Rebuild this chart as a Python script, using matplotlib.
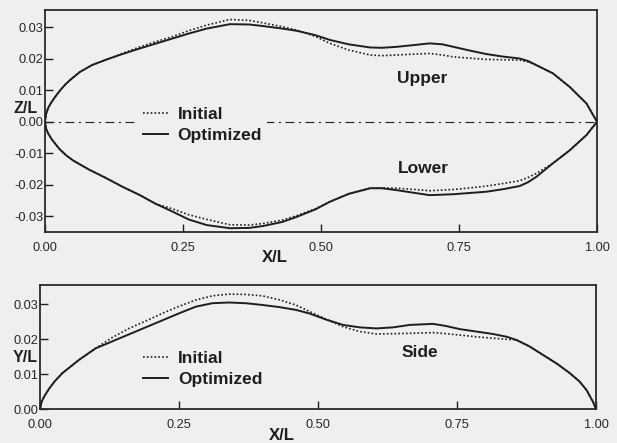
import numpy as np
import matplotlib.pyplot as plt

plt.rcParams['font.family'] = 'Liberation Sans'

# upper / lower surface, Z/L vs X/L
xu = [0, 0.002, 0.006, 0.012, 0.02, 0.027, 0.036, 0.045, 0.063, 0.085, 0.112, 0.14, 0.172, 0.2,
      0.232, 0.26, 0.293, 0.335, 0.37, 0.395, 0.43, 0.456, 0.49, 0.516, 0.55, 0.589, 0.61, 0.637,
      0.67, 0.697, 0.72, 0.74, 0.77, 0.80, 0.83, 0.86, 0.875, 0.89, 0.92, 0.951, 0.981, 1.0]
zu_opt = [0, 0.0025, 0.0045, 0.0063, 0.0083, 0.0099, 0.0117, 0.0132, 0.0158, 0.018, 0.0198,
          0.0215, 0.0233, 0.0248, 0.0265, 0.028, 0.0296, 0.031, 0.0309, 0.0304, 0.0296, 0.0289,
          0.0275, 0.026, 0.0246, 0.0236, 0.0235, 0.0238, 0.0244, 0.0249, 0.0246, 0.0238, 0.0226,
          0.0215, 0.0207, 0.0201, 0.0193, 0.018, 0.0154, 0.011, 0.0058, 0]
zu_init = [0, 0.0025, 0.0045, 0.0063, 0.0083, 0.0099, 0.0117, 0.0132, 0.0158, 0.018, 0.0198,
           0.0217, 0.0238, 0.0254, 0.0271, 0.0289, 0.0307, 0.0325, 0.0322, 0.0314, 0.0302, 0.0291,
           0.0271, 0.0249, 0.0228, 0.0212, 0.0210, 0.0212, 0.0215, 0.0217, 0.0212, 0.0206, 0.0202,
           0.0198, 0.0197, 0.0196, 0.0190, 0.018, 0.0154, 0.011, 0.0058, 0]

xl = [0, 0.002, 0.006, 0.012, 0.02, 0.027, 0.038, 0.051, 0.08, 0.112, 0.14, 0.172, 0.2, 0.232,
      0.26, 0.293, 0.335, 0.37, 0.395, 0.43, 0.456, 0.49, 0.516, 0.55, 0.589, 0.61, 0.637, 0.67,
      0.697, 0.74, 0.77, 0.80, 0.83, 0.86, 0.875, 0.89, 0.92, 0.951, 0.981, 1.0]
zl_opt = [0, -0.0022, -0.0038, -0.0055, -0.0073, -0.0088, -0.0106, -0.0123, -0.0152, -0.018,
          -0.0206, -0.0233, -0.026, -0.0286, -0.031, -0.0328, -0.0338, -0.0337, -0.0331, -0.0318,
          -0.0302, -0.0278, -0.0254, -0.0229, -0.0211, -0.0211, -0.0217, -0.0226, -0.0233, -0.023,
          -0.0226, -0.0222, -0.0214, -0.0204, -0.0192, -0.0175, -0.0132, -0.009, -0.0042, 0]
zl_init = [0, -0.0022, -0.0038, -0.0055, -0.0073, -0.0088, -0.0106, -0.0123, -0.0152, -0.018,
           -0.0206, -0.0233, -0.026, -0.0277, -0.0295, -0.0310, -0.0327, -0.0328, -0.0323, -0.0312,
           -0.0298, -0.0276, -0.0254, -0.0229, -0.0211, -0.021, -0.0211, -0.0215, -0.0219, -0.0215,
           -0.021, -0.0204, -0.0196, -0.0187, -0.0177, -0.0164, -0.0132, -0.009, -0.0042, 0]

# side, Y/L vs X/L
xs = [0, 0.003, 0.008, 0.016, 0.027, 0.04, 0.07, 0.10, 0.13, 0.16, 0.19, 0.22, 0.25, 0.28, 0.31,
      0.34, 0.37, 0.40, 0.43, 0.46, 0.484, 0.515, 0.545, 0.575, 0.605, 0.635, 0.665, 0.707, 0.73,
      0.755, 0.785, 0.815, 0.84, 0.857, 0.88, 0.905, 0.93, 0.953, 0.97, 0.983, 0.995, 1.0]
ys_opt = [0, 0.0022, 0.0038, 0.0058, 0.0081, 0.0103, 0.0141, 0.0174, 0.0194, 0.0214, 0.0234,
          0.0254, 0.0274, 0.0293, 0.0303, 0.0305, 0.0303, 0.0298, 0.0292, 0.0284, 0.0274, 0.0256,
          0.0241, 0.0234, 0.0231, 0.0234, 0.0241, 0.0244, 0.0238, 0.0229, 0.0222, 0.0215, 0.0207,
          0.0198, 0.018, 0.0155, 0.013, 0.0103, 0.008, 0.0055, 0.002, 0]
ys_init = [0, 0.0022, 0.0038, 0.0058, 0.0081, 0.0103, 0.0141, 0.0174, 0.0205, 0.0231, 0.0252,
           0.0274, 0.0294, 0.0312, 0.0324, 0.0329, 0.0328, 0.0324, 0.0313, 0.0298, 0.0280, 0.0257,
           0.0236, 0.0222, 0.0215, 0.0216, 0.0217, 0.0219, 0.0216, 0.0212, 0.0207, 0.0203, 0.0200,
           0.0198, 0.018, 0.0155, 0.013, 0.0103, 0.008, 0.0055, 0.002, 0]

xticks = [0.0, 0.25, 0.5, 0.75, 1.0]
xticklabels = ['0.00', '0.25', '0.50', '0.75', '1.00']

bg = '#efefef'
ink = '#1e1e1e'
dotted = (0, (1, 1.3))

fig = plt.figure(figsize=(6.17, 4.43), dpi=100, facecolor=bg)
ax1 = fig.add_axes([45/617, 1-232/443, 552/617, 222/443], facecolor=bg)
ax2 = fig.add_axes([40/617, 1-409.3/443, 556/617, 124.3/443], facecolor=bg)

# centre line
ax1.axhline(0, color=ink, lw=0.8, dashes=(8, 4, 2, 4), zorder=1)

ax1.plot(xu, zu_init, color=ink, lw=1.2, ls=dotted, label='Initial', zorder=2)
ax1.plot(xu, zu_opt, color=ink, lw=1.4, label='Optimized', zorder=3)
ax1.plot(xl, zl_init, color=ink, lw=1.2, ls=dotted, zorder=2)
ax1.plot(xl, zl_opt, color=ink, lw=1.4, zorder=3)

ax2.plot(xs, ys_init, color=ink, lw=1.2, ls=dotted, label='Initial', zorder=2)
ax2.plot(xs, ys_opt, color=ink, lw=1.4, label='Optimized', zorder=3)

ax1.set_ylim(-0.035, 0.0355)
ax1.set_yticks([-0.03, -0.02, -0.01, 0.0, 0.01, 0.02, 0.03])
ax1.set_yticklabels(['-0.03', '-0.02', '-0.01', '0.00', '0.01', '0.02', '0.03'])
ax2.set_ylim(0, 0.0355)
ax2.set_yticks([0.0, 0.01, 0.02, 0.03])
ax2.set_yticklabels(['0.00', '0.01', '0.02', '0.03'])

for ax in (ax1, ax2):
    ax.set_xlim(0, 1)
    ax.set_xticks(xticks)
    ax.set_xticklabels(xticklabels)
    ax.tick_params(direction='in', length=6, width=1.0, color=ink, labelsize=9.2,
                   labelcolor='#262626')
    ax.tick_params(axis='x', pad=7)
    ax.tick_params(axis='y', pad=1)
    for s in ax.spines.values():
        s.set_color('#2a2a2a')
        s.set_linewidth(1.3)

ax1.set_xlabel('X/L', fontsize=12, fontweight='bold', color=ink, va='center')
ax1.xaxis.set_label_coords(0.417, -0.117)
ax1.set_ylabel('Z/L', fontsize=11.5, fontweight='bold', color=ink, rotation=0, va='center')
ax1.yaxis.set_label_coords(-0.036, 0.558)
ax2.set_xlabel('X/L', fontsize=12, fontweight='bold', color=ink, va='center')
ax2.xaxis.set_label_coords(0.435, -0.207)
ax2.set_ylabel('Y/L', fontsize=11.5, fontweight='bold', color=ink, rotation=0, va='center')
ax2.yaxis.set_label_coords(-0.027, 0.413)

ax1.text(0.683, 0.692, 'Upper', transform=ax1.transAxes, ha='center', va='center',
         fontsize=12.5, fontweight='bold', color=ink)
ax1.text(0.685, 0.288, 'Lower', transform=ax1.transAxes, ha='center', va='center',
         fontsize=12.5, fontweight='bold', color=ink)
ax2.text(0.683, 0.455, 'Side', transform=ax2.transAxes, ha='center', va='center',
         fontsize=12.5, fontweight='bold', color=ink)

leg_kw = dict(loc='center left', handlelength=1.45, handletextpad=0.55,
              labelspacing=0.3, borderpad=0.3, borderaxespad=0, fancybox=False,
              framealpha=1, facecolor=bg, edgecolor='none', prop={'weight': 'bold', 'size': 12.5})
l1 = ax1.legend(bbox_to_anchor=(0.168, 0.482), **leg_kw)
l2 = ax2.legend(bbox_to_anchor=(0.176, 0.324), **leg_kw)
for l in (l1, l2):
    for t in l.get_texts():
        t.set_color(ink)

fig.savefig('out.png', dpi=100, facecolor=bg)
